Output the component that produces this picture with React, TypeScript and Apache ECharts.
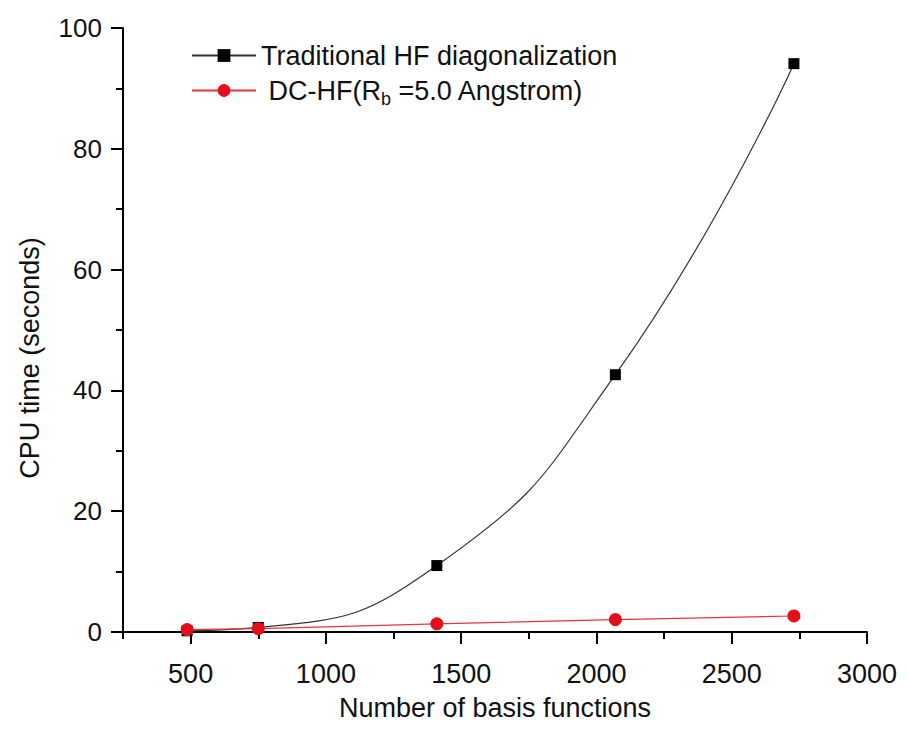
import React, { useEffect, useRef } from 'react';
import * as echarts from 'echarts';

const basisFunctions = [487, 750, 1410, 2070, 2730];
const traditionalHF = [0.2, 0.75, 11.0, 42.6, 94.1];
const dcHF = [0.4, 0.55, 1.35, 2.05, 2.65];
const xMajorTicks = [500, 1000, 1500, 2000, 2500, 3000];
const xMinorTicks = [250, 750, 1250, 1750, 2250, 2750];
const seriesNames = ['Traditional HF diagonalization', 'DC-HF(Rb =5.0 Angstrom)'];
const xAxisTitle = 'Number of basis functions';
const yAxisTitle = 'CPU time (seconds)';

const FONT = '"Liberation Sans", Arial, Helvetica, sans-serif';

export default function App() {
  const ref = useRef<HTMLDivElement>(null);
  useEffect(() => {
    if (!ref.current) return;
    const chart = echarts.init(ref.current, undefined, { renderer: 'svg' });
    const tickStyle = { color: '#000', width: 2 };
    const option: any = {
      animation: false,
      backgroundColor: '#ffffff',
      grid: { left: 112, right: 26, top: 20, bottom: 85, containLabel: false },
      legend: {
        left: 178,
        top: 29,
        orient: 'vertical',
        itemWidth: 64,
        itemHeight: 16,
        itemGap: 8,
        data: seriesNames,
        textStyle: {
          fontFamily: FONT,
          fontSize: 27,
          color: '#111',
          rich: {
            t: { fontFamily: FONT, fontSize: 27, color: '#111' },
            s: { fontFamily: FONT, fontSize: 18, color: '#111', padding: [16, 0, 0, 0] },
          },
        },
        formatter: (n: string) =>
          n === seriesNames[1] ? '{t| DC-HF(R}{s|b}{t| =5.0 Angstrom)}' : '{t|' + n + '}',
      },
      xAxis: [
        {
          type: 'value',
          min: 250,
          max: 3000,
          position: 'bottom',
          axisLine: { show: true, lineStyle: tickStyle },
          axisTick: { show: true, customValues: xMajorTicks, length: 12, lineStyle: tickStyle },
          axisLabel: {
            customValues: xMajorTicks,
            margin: 28,
            fontSize: 27,
            fontFamily: FONT,
            color: '#111',
            formatter: (v: number) => String(v),
          },
          splitLine: { show: false },
          name: xAxisTitle,
          nameLocation: 'middle',
          nameGap: 62,
          nameTextStyle: { fontSize: 27, fontFamily: FONT, color: '#111' },
        },
        {
          type: 'value',
          min: 250,
          max: 3000,
          position: 'bottom',
          axisLine: { show: false },
          axisTick: { show: true, customValues: xMinorTicks, length: 7, lineStyle: tickStyle },
          axisLabel: { show: false },
          splitLine: { show: false },
        },
      ],
      yAxis: {
        type: 'value',
        min: 0,
        max: 100,
        interval: 20,
        axisLine: { show: true, lineStyle: tickStyle },
        axisTick: { show: true, length: 12, lineStyle: tickStyle },
        minorTick: { show: true, splitNumber: 2, length: 7, lineStyle: tickStyle },
        axisLabel: { margin: 21, fontSize: 26, fontFamily: FONT, color: '#111' },
        splitLine: { show: false },
        minorSplitLine: { show: false },
        name: yAxisTitle,
        nameLocation: 'middle',
        nameGap: 80,
        nameTextStyle: { fontSize: 27, fontFamily: FONT, color: '#111', padding: [0, 56, 0, 0] },
      },
      series: [
        {
          name: seriesNames[0],
          type: 'line',
          smooth: true,
          symbol: 'rect',
          symbolSize: 11,
          itemStyle: { color: '#000' },
          lineStyle: { color: '#333', width: 1.2 },
          data: basisFunctions.map((x, i) => [x, traditionalHF[i]]),
          z: 2,
        },
        {
          name: seriesNames[1],
          type: 'line',
          symbol: 'circle',
          symbolSize: 13,
          itemStyle: { color: '#e3101b' },
          lineStyle: { color: '#e5353d', width: 1.2 },
          data: basisFunctions.map((x, i) => [x, dcHF[i]]),
          z: 3,
        },
      ],
    };
    chart.setOption(option);
    return () => chart.dispose();
  }, []);
  return <div ref={ref} style={{ width: 892, height: 718 }} />;
}
